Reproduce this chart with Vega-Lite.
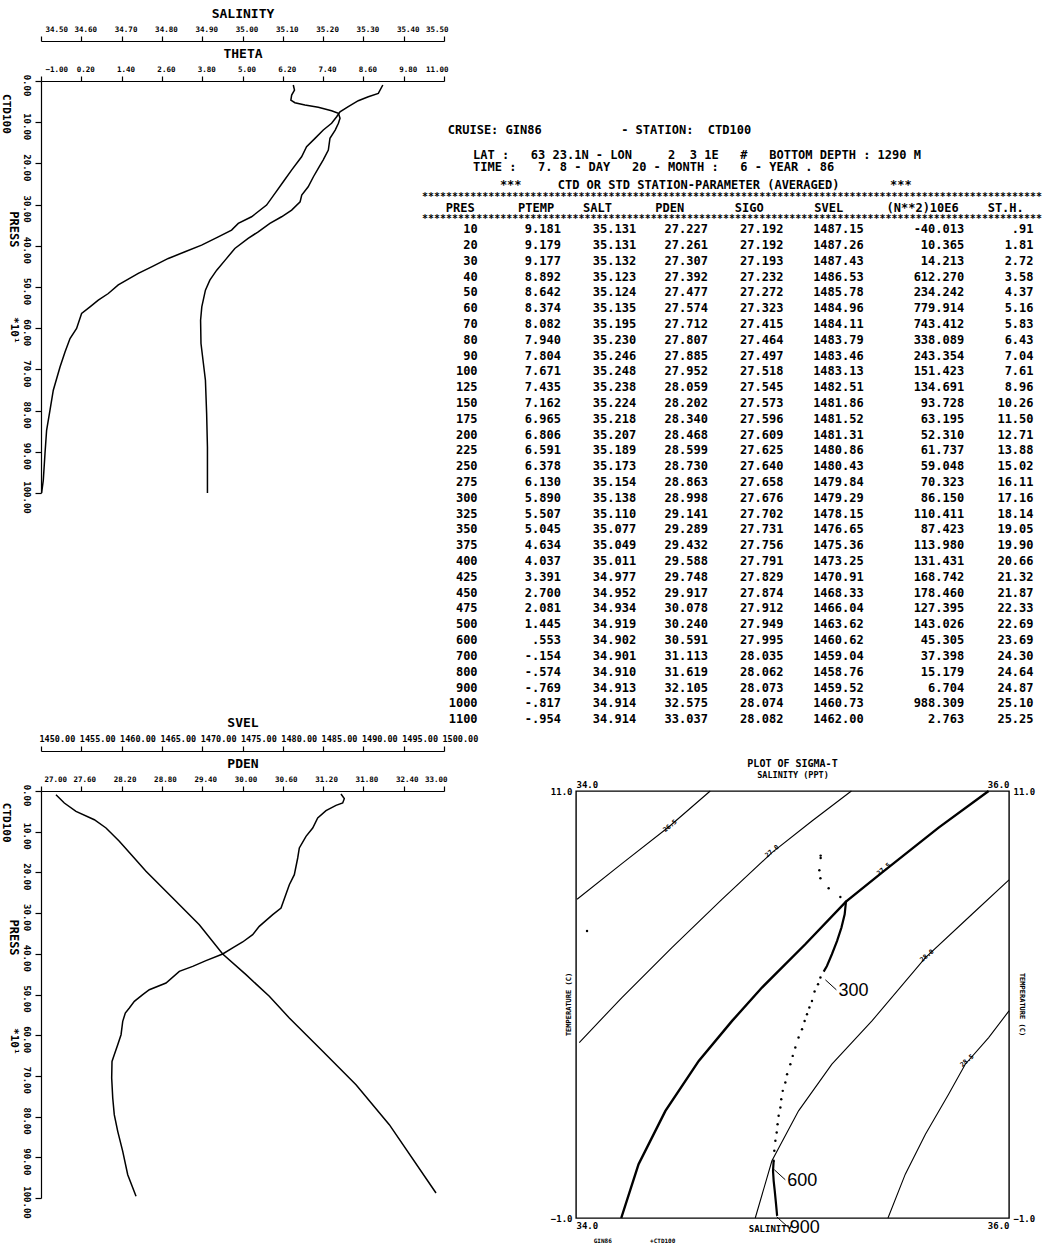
{
  "$schema": "https://vega.github.io/schema/vega-lite/v6.json",
  "background": "white",
  "padding": {"left": 0, "top": 7, "right": 0, "bottom": 0},
  "config": {
    "font": "DejaVu Sans Mono",
    "view": {"stroke": null},
    "axis": {"labelFont": "DejaVu Sans Mono", "labelFontWeight": "bold", "titleFont": "DejaVu Sans Mono", "titleFontWeight": "bold", "labelColor": "black", "titleColor": "black", "domainColor": "black", "tickColor": "black", "domainWidth": 1.2, "tickWidth": 1.2, "grid": false, "labelOverlap": false},
    "text": {"color": "black"}
  },
  "datasets": {
    "sal1": [{"P":9.7,"SAL":35.126},{"P":21.9,"SAL":35.129},{"P":34,"SAL":35.122},{"P":46.2,"SAL":35.120},{"P":52.7,"SAL":35.130},{"P":58.3,"SAL":35.155},{"P":63.9,"SAL":35.188},{"P":72.1,"SAL":35.221},{"P":78.5,"SAL":35.238},{"P":90.6,"SAL":35.242},{"P":102.7,"SAL":35.238},{"P":119,"SAL":35.230},{"P":139.2,"SAL":35.217},{"P":167.6,"SAL":35.213},{"P":191.9,"SAL":35.200},{"P":212.1,"SAL":35.188},{"P":232.4,"SAL":35.176},{"P":256.7,"SAL":35.163},{"P":276.9,"SAL":35.147},{"P":293.1,"SAL":35.143},{"P":313.3,"SAL":35.122},{"P":329.5,"SAL":35.097},{"P":345.6,"SAL":35.068},{"P":366,"SAL":35.039},{"P":382.1,"SAL":35.014},{"P":406.4,"SAL":34.981},{"P":434.8,"SAL":34.957},{"P":459.1,"SAL":34.936},{"P":483.4,"SAL":34.919},{"P":507.6,"SAL":34.908},{"P":548.2,"SAL":34.899},{"P":580.5,"SAL":34.896},{"P":637.1,"SAL":34.897},{"P":685.7,"SAL":34.903},{"P":726.3,"SAL":34.908},{"P":807.2,"SAL":34.911},{"P":888.3,"SAL":34.913},{"P":1000,"SAL":34.913}],
    "th1": [{"P":9.7,"TH":9.178},{"P":30,"TH":9.044},{"P":38.1,"TH":8.746},{"P":47.8,"TH":8.448},{"P":62.4,"TH":8.150},{"P":74.6,"TH":7.903},{"P":86.7,"TH":7.804},{"P":102.7,"TH":7.653},{"P":119,"TH":7.406},{"P":139.2,"TH":7.159},{"P":159.6,"TH":6.908},{"P":183.9,"TH":6.760},{"P":216.2,"TH":6.461},{"P":244.6,"TH":6.214},{"P":272.8,"TH":5.967},{"P":301.2,"TH":5.717},{"P":329.6,"TH":5.270},{"P":345.6,"TH":4.874},{"P":361.9,"TH":4.675},{"P":378.2,"TH":4.279},{"P":398.3,"TH":3.782},{"P":414.6,"TH":3.288},{"P":430.7,"TH":2.790},{"P":451,"TH":2.293},{"P":467.1,"TH":1.897},{"P":495,"TH":1.301},{"P":515.8,"TH":1.004},{"P":532,"TH":0.706},{"P":548.2,"TH":0.459},{"P":564.3,"TH":0.209},{"P":600.8,"TH":0.060},{"P":625,"TH":-0.136},{"P":657.5,"TH":-0.285},{"P":694,"TH":-0.434},{"P":750.6,"TH":-0.634},{"P":799.1,"TH":-0.732},{"P":847.7,"TH":-0.833},{"P":904.3,"TH":-0.881},{"P":969.2,"TH":-0.932},{"P":1000,"TH":-0.982}],
    "pd2": [{"P":9.1,"PD":27.223},{"P":29.5,"PD":27.347},{"P":49.9,"PD":27.521},{"P":70.5,"PD":27.794},{"P":90.9,"PD":27.968},{"P":123.6,"PD":28.166},{"P":160.4,"PD":28.365},{"P":197.3,"PD":28.563},{"P":262.9,"PD":28.961},{"P":328.5,"PD":29.357},{"P":400.5,"PD":29.705},{"P":451.3,"PD":30.052},{"P":504.4,"PD":30.399},{"P":557.7,"PD":30.697},{"P":639.6,"PD":31.194},{"P":721.6,"PD":31.690},{"P":819.9,"PD":32.186},{"P":987.7,"PD":32.881}],
    "sv2": [{"P":7.4,"SV":1487.22},{"P":18.8,"SV":1487.63},{"P":29.5,"SV":1487.43},{"P":35.2,"SV":1486.60},{"P":48.3,"SV":1485.36},{"P":66.3,"SV":1484.33},{"P":90.9,"SV":1483.71},{"P":111.4,"SV":1482.88},{"P":140,"SV":1482.05},{"P":164.6,"SV":1481.85},{"P":205.6,"SV":1481.43},{"P":230.2,"SV":1480.81},{"P":287.5,"SV":1479.78},{"P":303.9,"SV":1478.75},{"P":332.5,"SV":1477.08},{"P":353,"SV":1476.26},{"P":371,"SV":1475.02},{"P":385.7,"SV":1473.78},{"P":400.5,"SV":1472.54},{"P":416.9,"SV":1470.47},{"P":430.8,"SV":1468.82},{"P":443.1,"SV":1467.16},{"P":471.8,"SV":1465.51},{"P":488.2,"SV":1463.44},{"P":500.5,"SV":1462.62},{"P":516.9,"SV":1461.58},{"P":533.2,"SV":1460.96},{"P":545.5,"SV":1460.46},{"P":566,"SV":1460.14},{"P":598.8,"SV":1459.93},{"P":623.4,"SV":1459.52},{"P":648,"SV":1459.09},{"P":664.4,"SV":1458.81},{"P":705.2,"SV":1458.77},{"P":754.4,"SV":1458.90},{"P":795.3,"SV":1459.09},{"P":836.3,"SV":1459.52},{"P":885.3,"SV":1460.14},{"P":942.7,"SV":1460.76},{"P":995.9,"SV":1461.79}],
    "tbl": [
      {"PRES":10,"PTEMP":9.181,"SALT":35.131,"PDEN":27.227,"SIGO":27.192,"SVEL":1487.15,"N2":-40.013,"STH":0.91},
      {"PRES":20,"PTEMP":9.179,"SALT":35.131,"PDEN":27.261,"SIGO":27.192,"SVEL":1487.26,"N2":10.365,"STH":1.81},
      {"PRES":30,"PTEMP":9.177,"SALT":35.132,"PDEN":27.307,"SIGO":27.193,"SVEL":1487.43,"N2":14.213,"STH":2.72},
      {"PRES":40,"PTEMP":8.892,"SALT":35.123,"PDEN":27.392,"SIGO":27.232,"SVEL":1486.53,"N2":612.270,"STH":3.58},
      {"PRES":50,"PTEMP":8.642,"SALT":35.124,"PDEN":27.477,"SIGO":27.272,"SVEL":1485.78,"N2":234.242,"STH":4.37},
      {"PRES":60,"PTEMP":8.374,"SALT":35.135,"PDEN":27.574,"SIGO":27.323,"SVEL":1484.96,"N2":779.914,"STH":5.16},
      {"PRES":70,"PTEMP":8.082,"SALT":35.195,"PDEN":27.712,"SIGO":27.415,"SVEL":1484.11,"N2":743.412,"STH":5.83},
      {"PRES":80,"PTEMP":7.940,"SALT":35.230,"PDEN":27.807,"SIGO":27.464,"SVEL":1483.79,"N2":338.089,"STH":6.43},
      {"PRES":90,"PTEMP":7.804,"SALT":35.246,"PDEN":27.885,"SIGO":27.497,"SVEL":1483.46,"N2":243.354,"STH":7.04},
      {"PRES":100,"PTEMP":7.671,"SALT":35.248,"PDEN":27.952,"SIGO":27.518,"SVEL":1483.13,"N2":151.423,"STH":7.61},
      {"PRES":125,"PTEMP":7.435,"SALT":35.238,"PDEN":28.059,"SIGO":27.545,"SVEL":1482.51,"N2":134.691,"STH":8.96},
      {"PRES":150,"PTEMP":7.162,"SALT":35.224,"PDEN":28.202,"SIGO":27.573,"SVEL":1481.86,"N2":93.728,"STH":10.26},
      {"PRES":175,"PTEMP":6.965,"SALT":35.218,"PDEN":28.340,"SIGO":27.596,"SVEL":1481.52,"N2":63.195,"STH":11.50},
      {"PRES":200,"PTEMP":6.806,"SALT":35.207,"PDEN":28.468,"SIGO":27.609,"SVEL":1481.31,"N2":52.310,"STH":12.71},
      {"PRES":225,"PTEMP":6.591,"SALT":35.189,"PDEN":28.599,"SIGO":27.625,"SVEL":1480.86,"N2":61.737,"STH":13.88},
      {"PRES":250,"PTEMP":6.378,"SALT":35.173,"PDEN":28.730,"SIGO":27.640,"SVEL":1480.43,"N2":59.048,"STH":15.02},
      {"PRES":275,"PTEMP":6.130,"SALT":35.154,"PDEN":28.863,"SIGO":27.658,"SVEL":1479.84,"N2":70.323,"STH":16.11},
      {"PRES":300,"PTEMP":5.890,"SALT":35.138,"PDEN":28.998,"SIGO":27.676,"SVEL":1479.29,"N2":86.150,"STH":17.16},
      {"PRES":325,"PTEMP":5.507,"SALT":35.110,"PDEN":29.141,"SIGO":27.702,"SVEL":1478.15,"N2":110.411,"STH":18.14},
      {"PRES":350,"PTEMP":5.045,"SALT":35.077,"PDEN":29.289,"SIGO":27.731,"SVEL":1476.65,"N2":87.423,"STH":19.05},
      {"PRES":375,"PTEMP":4.634,"SALT":35.049,"PDEN":29.432,"SIGO":27.756,"SVEL":1475.36,"N2":113.980,"STH":19.90},
      {"PRES":400,"PTEMP":4.037,"SALT":35.011,"PDEN":29.588,"SIGO":27.791,"SVEL":1473.25,"N2":131.431,"STH":20.66},
      {"PRES":425,"PTEMP":3.391,"SALT":34.977,"PDEN":29.748,"SIGO":27.829,"SVEL":1470.91,"N2":168.742,"STH":21.32},
      {"PRES":450,"PTEMP":2.700,"SALT":34.952,"PDEN":29.917,"SIGO":27.874,"SVEL":1468.33,"N2":178.460,"STH":21.87},
      {"PRES":475,"PTEMP":2.081,"SALT":34.934,"PDEN":30.078,"SIGO":27.912,"SVEL":1466.04,"N2":127.395,"STH":22.33},
      {"PRES":500,"PTEMP":1.445,"SALT":34.919,"PDEN":30.240,"SIGO":27.949,"SVEL":1463.62,"N2":143.026,"STH":22.69},
      {"PRES":600,"PTEMP":0.553,"SALT":34.902,"PDEN":30.591,"SIGO":27.995,"SVEL":1460.62,"N2":45.305,"STH":23.69},
      {"PRES":700,"PTEMP":-0.154,"SALT":34.901,"PDEN":31.113,"SIGO":28.035,"SVEL":1459.04,"N2":37.398,"STH":24.30},
      {"PRES":800,"PTEMP":-0.574,"SALT":34.910,"PDEN":31.619,"SIGO":28.062,"SVEL":1458.76,"N2":15.179,"STH":24.64},
      {"PRES":900,"PTEMP":-0.769,"SALT":34.913,"PDEN":32.105,"SIGO":28.073,"SVEL":1459.52,"N2":6.704,"STH":24.87},
      {"PRES":1000,"PTEMP":-0.817,"SALT":34.914,"PDEN":32.575,"SIGO":28.074,"SVEL":1460.73,"N2":988.309,"STH":25.10},
      {"PRES":1100,"PTEMP":-0.954,"SALT":34.914,"PDEN":33.037,"SIGO":28.082,"SVEL":1462.00,"N2":2.763,"STH":25.25}
    ],
    "contours": [
      {"level":26.5,"S":34.005,"T":7.957},{"level":26.5,"S":34.212,"T":8.959},{"level":26.5,"S":34.428,"T":9.989},{"level":26.5,"S":34.620,"T":11.0},
      {"level":27.0,"S":34.015,"T":3.931},{"level":27.0,"S":34.212,"T":5.195},{"level":27.0,"S":34.443,"T":6.599},{"level":27.0,"S":34.674,"T":7.957},{"level":27.0,"S":34.905,"T":9.268},{"level":27.0,"S":35.090,"T":10.157},{"level":27.0,"S":35.272,"T":11.0},
      {"level":27.5,"S":34.209,"T":-1.0},{"level":27.5,"S":34.289,"T":0.513},{"level":27.5,"S":34.413,"T":2.011},{"level":27.5,"S":34.567,"T":3.416},{"level":27.5,"S":34.721,"T":4.539},{"level":27.5,"S":34.859,"T":5.476},{"level":27.5,"S":35.059,"T":6.693},{"level":27.5,"S":35.247,"T":7.891},{"level":27.5,"S":35.413,"T":8.706},{"level":27.5,"S":35.675,"T":9.970},{"level":27.5,"S":35.906,"T":11.0},
      {"level":28.0,"S":34.828,"T":-1.0},{"level":28.0,"S":34.905,"T":0.607},{"level":28.0,"S":35.028,"T":2.011},{"level":28.0,"S":35.182,"T":3.322},{"level":28.0,"S":35.367,"T":4.539},{"level":28.0,"S":35.614,"T":6.318},{"level":28.0,"S":35.829,"T":7.536},{"level":28.0,"S":36.0,"T":8.5},
      {"level":28.5,"S":35.441,"T":-1.0},{"level":28.5,"S":35.521,"T":0.232},{"level":28.5,"S":35.614,"T":1.356},{"level":28.5,"S":35.721,"T":2.48},{"level":28.5,"S":35.798,"T":3.322},{"level":28.5,"S":35.906,"T":4.071},{"level":28.5,"S":36.0,"T":4.82}
    ],
    "clab": [
      {"lab":"26.5","S":34.434,"T":10.02},{"lab":"27.0","S":34.905,"T":9.31},{"lab":"27.5","S":35.421,"T":8.80},{"lab":"28.0","S":35.621,"T":6.37},{"lab":"28.5","S":35.806,"T":3.42}
    ],
    "tsd": [
      {"S":35.130,"T":9.184},{"S":35.130,"T":9.118},{"S":35.124,"T":8.772},{"S":35.129,"T":8.547},{"S":35.167,"T":8.266},{"S":35.221,"T":8.022},{"S":35.247,"T":7.891},
      {"S":35.129,"T":5.757},{"S":35.118,"T":5.569},{"S":35.102,"T":5.363},{"S":35.090,"T":5.101},{"S":35.078,"T":4.914},{"S":35.067,"T":4.727},{"S":35.056,"T":4.539},{"S":35.044,"T":4.305},{"S":35.028,"T":4.071},{"S":35.013,"T":3.790},{"S":35.001,"T":3.556},{"S":34.990,"T":3.322},{"S":34.975,"T":3.041},{"S":34.967,"T":2.807},{"S":34.955,"T":2.573},{"S":34.948,"T":2.339},{"S":34.944,"T":2.105},{"S":34.936,"T":1.871},{"S":34.931,"T":1.637},{"S":34.927,"T":1.403},{"S":34.921,"T":1.169},{"S":34.916,"T":0.888},{"S":34.913,"T":0.607},
      {"S":34.051,"T":7.067}
    ],
    "tsl": [
      {"seg":"a","S":35.247,"T":7.891},{"seg":"a","S":35.241,"T":7.536},{"seg":"a","S":35.226,"T":7.161},{"seg":"a","S":35.206,"T":6.787},{"seg":"a","S":35.182,"T":6.412},{"seg":"a","S":35.159,"T":6.084},{"seg":"a","S":35.144,"T":5.925},
      {"seg":"b","S":34.913,"T":0.607},{"seg":"b","S":34.910,"T":0.326},{"seg":"b","S":34.913,"T":0.045},{"seg":"b","S":34.918,"T":-0.236},{"seg":"b","S":34.924,"T":-0.610},{"seg":"b","S":34.929,"T":-0.938}
    ],
    "ann": [
      {"PRES":"300","S":35.138,"T":5.89},{"PRES":"600","S":34.902,"T":0.553},{"PRES":"900","S":34.913,"T":-0.769}
    ]
  },
  "bounds": "flush",
  "columns": 2,
  "spacing": {"row": 66, "column": 132},
  "concat": [
    {
      "width": 403, "height": 412,
      "resolve": {"scale": {"x": "independent"}},
      "layer": [
        {
          "data": {"name": "sal1"},
          "mark": {"type": "line", "color": "black", "strokeWidth": 1.5},
          "encoding": {
            "x": {"field": "SAL", "type": "quantitative", "scale": {"domain": [34.5, 35.5], "nice": false, "zero": false},
              "axis": {"orient": "top", "offset": 40, "values": [34.5,34.6,34.7,34.8,34.9,35,35.1,35.2,35.3,35.4,35.5], "format": ".2f", "title": "SALINITY", "tickSize": 5, "labelPadding": 3, "labelOffset": 4, "labelFontSize": 7.5, "titleFontSize": 13, "titlePadding": 5}},
            "y": {"field": "P", "type": "quantitative", "scale": {"domain": [0, 1000], "reverse": true, "nice": false, "zero": false},
              "axis": {"orient": "left", "values": [0,100,200,300,400,500,600,700,800,900,1000], "labelExpr": "format(datum.value / 10, '.2f')", "labelAngle": 90, "labelAlign": "center", "labelBaseline": "top", "labelOffset": 4, "tickSize": 6, "labelPadding": 5, "labelFontSize": 9, "title": null}},
            "order": {"field": "P", "type": "quantitative"}
          }
        },
        {
          "data": {"name": "th1"},
          "mark": {"type": "line", "color": "black", "strokeWidth": 1.5},
          "encoding": {
            "x": {"field": "TH", "type": "quantitative", "scale": {"domain": [-1, 11], "nice": false, "zero": false},
              "axis": {"orient": "top", "offset": 0, "values": [-1,0.2,1.4,2.6,3.8,5,6.2,7.4,8.6,9.8,11], "format": ".2f", "title": "THETA", "tickSize": 5, "labelPadding": 3, "labelOffset": 4, "labelFontSize": 7.5, "titleFontSize": 13, "titlePadding": 5}},
            "y": {"field": "P", "type": "quantitative"},
            "order": {"field": "P", "type": "quantitative"}
          }
        },
        {
          "data": {"values": [{}]},
          "mark": {"type": "text", "angle": 90, "fontWeight": "bold", "fontSize": 11, "align": "center", "baseline": "middle"},
          "encoding": {"x": {"datum": 34.413, "type": "quantitative", "scale": {"domain": [34.5, 35.5], "nice": false, "zero": false}, "axis": null}, "y": {"datum": 80, "type": "quantitative"}, "text": {"value": "CTD100"}}
        },
        {
          "data": {"values": [{}]},
          "mark": {"type": "text", "angle": 90, "fontWeight": "bold", "fontSize": 12, "align": "center", "baseline": "middle"},
          "encoding": {"x": {"datum": 34.433, "type": "quantitative", "scale": {"domain": [34.5, 35.5], "nice": false, "zero": false}, "axis": null}, "y": {"datum": 360, "type": "quantitative"}, "text": {"value": "PRESS"}}
        },
        {
          "data": {"values": [{}]},
          "mark": {"type": "text", "angle": 90, "fontWeight": "bold", "fontSize": 11, "align": "center", "baseline": "middle"},
          "encoding": {"x": {"datum": 34.433, "type": "quantitative", "scale": {"domain": [34.5, 35.5], "nice": false, "zero": false}, "axis": null}, "y": {"datum": 605, "type": "quantitative"}, "text": {"value": "*10¹"}}
        }
      ]
    },
    {
      "width": 433, "height": 644,
      "resolve": {"scale": {"y": "independent"}},
      "layer": [
        {
          "data": {"values": [{}]},
          "layer": [
            {"mark": {"type": "text", "align": "left", "baseline": "middle", "fontSize": 12, "fontWeight": "bold", "font": "DejaVu Sans Mono"},
             "encoding": {"x": {"datum": 3.31, "type": "quantitative", "scale": {"domain": [19.77, 75.35], "nice": false, "zero": false}, "axis": null},
               "y": {"datum": 3.06, "type": "quantitative", "scale": {"domain": [0, 40.25], "reverse": true, "nice": false, "zero": false}, "axis": null},
               "text": {"value": "CRUISE:\u00a0GIN86\u00a0\u00a0\u00a0\u00a0\u00a0\u00a0\u00a0\u00a0\u00a0\u00a0\u00a0-\u00a0STATION:\u00a0\u00a0CTD100"}}},
            {"mark": {"type": "text", "align": "left", "baseline": "middle", "fontSize": 12, "fontWeight": "bold", "font": "DejaVu Sans Mono"},
             "encoding": {"x": {"datum": 6.55, "type": "quantitative", "axis": null}, "y": {"datum": 4.6, "type": "quantitative", "axis": null},
               "text": {"value": "LAT\u00a0:\u00a0\u00a0\u00a063\u00a023.1N\u00a0-\u00a0LON\u00a0\u00a0\u00a0\u00a0\u00a02\u00a0\u00a03\u00a01E\u00a0\u00a0\u00a0#\u00a0\u00a0\u00a0BOTTOM\u00a0DEPTH\u00a0:\u00a01290\u00a0M"}}},
            {"mark": {"type": "text", "align": "left", "baseline": "middle", "fontSize": 12, "fontWeight": "bold", "font": "DejaVu Sans Mono"},
             "encoding": {"x": {"datum": 6.55, "type": "quantitative", "axis": null}, "y": {"datum": 5.4, "type": "quantitative", "axis": null},
               "text": {"value": "TIME\u00a0:\u00a0\u00a0\u00a07.\u00a08\u00a0-\u00a0DAY\u00a0\u00a0\u00a020\u00a0-\u00a0MONTH\u00a0:\u00a0\u00a0\u00a06\u00a0-\u00a0YEAR\u00a0.\u00a086"}}},
            {"mark": {"type": "text", "align": "left", "baseline": "middle", "fontSize": 12, "fontWeight": "bold", "font": "DejaVu Sans Mono"},
             "encoding": {"x": {"datum": 10.0, "type": "quantitative", "axis": null}, "y": {"datum": 6.53, "type": "quantitative", "axis": null},
               "text": {"value": "***\u00a0\u00a0\u00a0\u00a0\u00a0CTD\u00a0OR\u00a0STD\u00a0STATION-PARAMETER\u00a0(AVERAGED)\u00a0\u00a0\u00a0\u00a0\u00a0\u00a0\u00a0***"}}},
            {"mark": {"type": "text", "align": "left", "baseline": "middle", "fontSize": 10, "fontWeight": "bold", "font": "DejaVu Sans Mono"},
             "encoding": {"x": {"datum": 0, "type": "quantitative", "axis": null}, "y": {"datum": 7.25, "type": "quantitative", "axis": null},
               "text": {"value": "*******************************************************************************************************"}}},
            {"mark": {"type": "text", "align": "left", "baseline": "middle", "fontSize": 12, "fontWeight": "bold", "font": "DejaVu Sans Mono"},
             "encoding": {"x": {"datum": 3.06, "type": "quantitative", "axis": null}, "y": {"datum": 7.94, "type": "quantitative", "axis": null},
               "text": {"value": "PRES\u00a0\u00a0\u00a0\u00a0\u00a0\u00a0PTEMP\u00a0\u00a0\u00a0\u00a0SALT\u00a0\u00a0\u00a0\u00a0\u00a0\u00a0PDEN\u00a0\u00a0\u00a0\u00a0\u00a0\u00a0\u00a0SIGO\u00a0\u00a0\u00a0\u00a0\u00a0\u00a0\u00a0SVEL\u00a0\u00a0\u00a0\u00a0\u00a0\u00a0(N**2)10E6\u00a0\u00a0\u00a0\u00a0ST.H."}}},
            {"mark": {"type": "text", "align": "left", "baseline": "middle", "fontSize": 10, "fontWeight": "bold", "font": "DejaVu Sans Mono"},
             "encoding": {"x": {"datum": 0, "type": "quantitative", "axis": null}, "y": {"datum": 8.6, "type": "quantitative", "axis": null},
               "text": {"value": "*******************************************************************************************************"}}}
          ]
        },
        {
          "data": {"name": "tbl"},
          "transform": [
            {"calculate": "'' + datum.PRES", "as": "slot"},
            {"calculate": "replace(replace(format(datum.PTEMP, '.3f'), '−', '-'), regexp('^(-?)0[.]'), '$1.')", "as": "PT"},
            {"calculate": "replace(format(datum.N2, '.3f'), '−', '-')", "as": "N2T"},
            {"calculate": "replace(format(datum.STH, '.2f'), regexp('^0[.]'), '.')", "as": "STT"}
          ],
          "layer": [
            {"mark": {"type": "text", "align": "right", "baseline": "middle", "fontSize": 12, "fontWeight": "bold", "font": "DejaVu Sans Mono"},
             "encoding": {"x": {"datum": 7.14, "type": "quantitative", "axis": null},
               "y": {"field": "slot", "type": "ordinal", "axis": null, "scale": {"type": "point", "padding": 0.37, "domain": ["b0","b1","b2","b3","b4","b5","b6","b7","b8","10","20","30","40","50","60","70","80","90","100","125","150","175","200","225","250","275","300","325","350","375","400","425","450","475","500","600","700","800","900","1000","1100"]}},
               "text": {"field": "PRES", "type": "quantitative", "format": "d"}}},
            {"mark": {"type": "text", "align": "right", "baseline": "middle", "fontSize": 12, "fontWeight": "bold", "font": "DejaVu Sans Mono"},
             "encoding": {"x": {"datum": 17.84, "type": "quantitative", "axis": null}, "y": {"field": "slot", "type": "ordinal", "axis": null}, "text": {"field": "PT", "type": "nominal"}}},
            {"mark": {"type": "text", "align": "right", "baseline": "middle", "fontSize": 12, "fontWeight": "bold", "font": "DejaVu Sans Mono"},
             "encoding": {"x": {"datum": 27.5, "type": "quantitative", "axis": null}, "y": {"field": "slot", "type": "ordinal", "axis": null}, "text": {"field": "SALT", "type": "quantitative", "format": ".3f"}}},
            {"mark": {"type": "text", "align": "right", "baseline": "middle", "fontSize": 12, "fontWeight": "bold", "font": "DejaVu Sans Mono"},
             "encoding": {"x": {"datum": 36.7, "type": "quantitative", "axis": null}, "y": {"field": "slot", "type": "ordinal", "axis": null}, "text": {"field": "PDEN", "type": "quantitative", "format": ".3f"}}},
            {"mark": {"type": "text", "align": "right", "baseline": "middle", "fontSize": 12, "fontWeight": "bold", "font": "DejaVu Sans Mono"},
             "encoding": {"x": {"datum": 46.4, "type": "quantitative", "axis": null}, "y": {"field": "slot", "type": "ordinal", "axis": null}, "text": {"field": "SIGO", "type": "quantitative", "format": ".3f"}}},
            {"mark": {"type": "text", "align": "right", "baseline": "middle", "fontSize": 12, "fontWeight": "bold", "font": "DejaVu Sans Mono"},
             "encoding": {"x": {"datum": 56.7, "type": "quantitative", "axis": null}, "y": {"field": "slot", "type": "ordinal", "axis": null}, "text": {"field": "SVEL", "type": "quantitative", "format": ".2f"}}},
            {"mark": {"type": "text", "align": "right", "baseline": "middle", "fontSize": 12, "fontWeight": "bold", "font": "DejaVu Sans Mono"},
             "encoding": {"x": {"datum": 69.6, "type": "quantitative", "axis": null}, "y": {"field": "slot", "type": "ordinal", "axis": null}, "text": {"field": "N2T", "type": "nominal"}}},
            {"mark": {"type": "text", "align": "right", "baseline": "middle", "fontSize": 12, "fontWeight": "bold", "font": "DejaVu Sans Mono"},
             "encoding": {"x": {"datum": 78.5, "type": "quantitative", "axis": null}, "y": {"field": "slot", "type": "ordinal", "axis": null}, "text": {"field": "STT", "type": "nominal"}}}
          ]
        }
      ]
    },
    {
      "width": 403, "height": 407,
      "resolve": {"scale": {"x": "independent"}},
      "layer": [
        {
          "data": {"name": "sv2"},
          "mark": {"type": "line", "color": "black", "strokeWidth": 1.5},
          "encoding": {
            "x": {"field": "SV", "type": "quantitative", "scale": {"domain": [1450, 1500], "nice": false, "zero": false},
              "axis": {"orient": "top", "offset": 40, "values": [1450,1455,1460,1465,1470,1475,1480,1485,1490,1495,1500], "format": ".2f", "title": "SVEL", "tickSize": 5, "labelPadding": 3, "labelAlign": "left", "labelOffset": -2, "labelFontSize": 8.5, "titleFontSize": 13, "titlePadding": 5}},
            "y": {"field": "P", "type": "quantitative", "scale": {"domain": [0, 1000], "reverse": true, "nice": false, "zero": false},
              "axis": {"orient": "left", "values": [0,100,200,300,400,500,600,700,800,900,1000], "labelExpr": "format(datum.value / 10, '.2f')", "labelAngle": 90, "labelAlign": "center", "labelBaseline": "top", "labelOffset": 4, "tickSize": 6, "labelPadding": 5, "labelFontSize": 9, "title": null}},
            "order": {"field": "P", "type": "quantitative"}
          }
        },
        {
          "data": {"name": "pd2"},
          "mark": {"type": "line", "color": "black", "strokeWidth": 1.5},
          "encoding": {
            "x": {"field": "PD", "type": "quantitative", "scale": {"domain": [27, 33], "nice": false, "zero": false},
              "axis": {"orient": "top", "offset": 0, "values": [27,27.6,28.2,28.8,29.4,30,30.6,31.2,31.8,32.4,33], "format": ".2f", "title": "PDEN", "tickSize": 5, "labelPadding": 3, "labelOffset": 3, "labelFontSize": 7.5, "titleFontSize": 13, "titlePadding": 5}},
            "y": {"field": "P", "type": "quantitative"},
            "order": {"field": "P", "type": "quantitative"}
          }
        },
        {
          "data": {"values": [{}]},
          "mark": {"type": "text", "angle": 90, "fontWeight": "bold", "fontSize": 11, "align": "center", "baseline": "middle"},
          "encoding": {"x": {"datum": 1445.66, "type": "quantitative", "scale": {"domain": [1450, 1500], "nice": false, "zero": false}, "axis": null}, "y": {"datum": 78, "type": "quantitative"}, "text": {"value": "CTD100"}}
        },
        {
          "data": {"values": [{}]},
          "mark": {"type": "text", "angle": 90, "fontWeight": "bold", "fontSize": 12, "align": "center", "baseline": "middle"},
          "encoding": {"x": {"datum": 1446.65, "type": "quantitative", "scale": {"domain": [1450, 1500], "nice": false, "zero": false}, "axis": null}, "y": {"datum": 360, "type": "quantitative"}, "text": {"value": "PRESS"}}
        },
        {
          "data": {"values": [{}]},
          "mark": {"type": "text", "angle": 90, "fontWeight": "bold", "fontSize": 11, "align": "center", "baseline": "middle"},
          "encoding": {"x": {"datum": 1446.65, "type": "quantitative", "scale": {"domain": [1450, 1500], "nice": false, "zero": false}, "axis": null}, "y": {"datum": 615, "type": "quantitative"}, "text": {"value": "*10¹"}}
        }
      ]
    },
    {
      "width": 433, "height": 427,
      "view": {"stroke": "black", "strokeWidth": 1.4},
      "title": {"text": "PLOT OF SIGMA-T", "font": "DejaVu Sans Mono", "fontWeight": "bold", "fontSize": 10, "offset": 1, "color": "black"},
      "resolve": {"axis": {"x": "independent", "y": "independent"}},
      "layer": [
        {
          "data": {"name": "contours"},
          "mark": {"type": "line", "color": "black"},
          "encoding": {
            "x": {"field": "S", "type": "quantitative", "scale": {"domain": [34, 36], "nice": false, "zero": false},
              "axis": {"orient": "top", "values": [34, 36], "format": ".1f", "labelFlush": true, "ticks": false, "domain": false, "labelFontSize": 9, "labelPadding": 2, "title": "SALINITY (PPT)", "titleFontSize": 8.5, "titlePadding": 1}},
            "y": {"field": "T", "type": "quantitative", "scale": {"domain": [-1, 11], "nice": false, "zero": false},
              "axis": {"orient": "left", "values": [-1, 11], "format": ".1f", "ticks": false, "domain": false, "labelFontSize": 9, "labelPadding": 4, "title": null}},
            "detail": {"field": "level", "type": "nominal"},
            "order": {"field": "T", "type": "quantitative"},
            "strokeWidth": {"condition": {"test": "datum.level == 27.5", "value": 2.4}, "value": 1.1}
          }
        },
        {
          "data": {"name": "tsd"},
          "mark": {"type": "point", "filled": true, "color": "black", "size": 6, "opacity": 1},
          "encoding": {
            "x": {"field": "S", "type": "quantitative", "axis": {"orient": "bottom", "values": [34, 36], "format": ".1f", "labelFlush": true, "ticks": false, "domain": false, "labelFontSize": 9, "labelPadding": 3, "title": null}},
            "y": {"field": "T", "type": "quantitative", "axis": {"orient": "right", "values": [-1, 11], "format": ".1f", "ticks": false, "domain": false, "labelFontSize": 9, "labelPadding": 4, "title": null}}
          }
        },
        {
          "data": {"name": "tsl"},
          "mark": {"type": "line", "color": "black", "strokeWidth": 2.2},
          "encoding": {
            "x": {"field": "S", "type": "quantitative", "axis": null},
            "y": {"field": "T", "type": "quantitative", "axis": null},
            "detail": {"field": "seg", "type": "nominal"},
            "order": {"field": "T", "type": "quantitative"}
          }
        },
        {
          "data": {"name": "clab"},
          "mark": {"type": "text", "fontSize": 6.5, "fontWeight": "bold", "align": "center", "baseline": "middle"},
          "encoding": {
            "x": {"field": "S", "type": "quantitative", "axis": null},
            "y": {"field": "T", "type": "quantitative", "axis": null},
            "text": {"field": "lab"},
            "angle": {"field": "lab", "type": "nominal", "scale": {"domain": ["26.5","27.0","27.5","28.0","28.5"], "range": [321, 319, 321, 313, 305]}}
          }
        },
        {
          "data": {"name": "ann"},
          "mark": {"type": "rule", "color": "black", "strokeWidth": 1, "xOffset": 3, "yOffset": 7, "x2Offset": 14, "y2Offset": 17},
          "encoding": {
            "x": {"field": "S", "type": "quantitative", "axis": null},
            "y": {"field": "T", "type": "quantitative", "axis": null},
            "x2": {"field": "S"},
            "y2": {"field": "T"}
          }
        },
        {
          "data": {"name": "ann"},
          "mark": {"type": "text", "font": "Liberation Sans", "fontSize": 18, "align": "left", "baseline": "middle", "dx": 16, "dy": 18},
          "encoding": {
            "x": {"field": "S", "type": "quantitative", "axis": null},
            "y": {"field": "T", "type": "quantitative", "axis": null},
            "text": {"field": "PRES"}
          }
        },
        {
          "data": {"values": [{}]},
          "mark": {"type": "text", "fontSize": 9, "fontWeight": "bold", "align": "left", "baseline": "middle"},
          "encoding": {"x": {"datum": 34.798, "type": "quantitative", "axis": null}, "y": {"datum": -1.3, "type": "quantitative", "axis": null}, "text": {"value": "SALINITY"}}
        },
        {
          "data": {"values": [{}]},
          "mark": {"type": "text", "fontSize": 6, "fontWeight": "bold", "align": "left", "baseline": "middle"},
          "encoding": {"x": {"datum": 34.082, "type": "quantitative", "axis": null}, "y": {"datum": -1.64, "type": "quantitative", "axis": null}, "text": {"value": "GIN86"}}
        },
        {
          "data": {"values": [{}]},
          "mark": {"type": "text", "fontSize": 6, "fontWeight": "bold", "align": "left", "baseline": "middle"},
          "encoding": {"x": {"datum": 34.342, "type": "quantitative", "axis": null}, "y": {"datum": -1.64, "type": "quantitative", "axis": null}, "text": {"value": "+CTD100"}}
        },
        {
          "data": {"values": [{}]},
          "mark": {"type": "text", "fontSize": 7, "fontWeight": "bold", "align": "center", "baseline": "middle", "angle": 270},
          "encoding": {"x": {"datum": 33.968, "type": "quantitative", "axis": null}, "y": {"datum": 5, "type": "quantitative", "axis": null}, "text": {"value": "TEMPERATURE (C)"}}
        },
        {
          "data": {"values": [{}]},
          "mark": {"type": "text", "fontSize": 7, "fontWeight": "bold", "align": "center", "baseline": "middle", "angle": 90},
          "encoding": {"x": {"datum": 36.06, "type": "quantitative", "axis": null}, "y": {"datum": 5, "type": "quantitative", "axis": null}, "text": {"value": "TEMPERATURE (C)"}}
        }
      ]
    }
  ]
}
